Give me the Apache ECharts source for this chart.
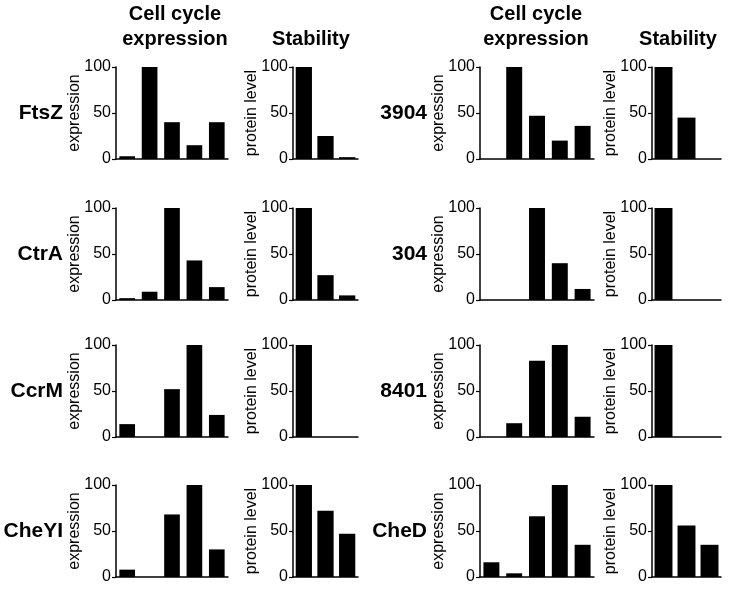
<!DOCTYPE html>
<html>
<head>
<meta charset="utf-8">
<script src="https://cdn.jsdelivr.net/npm/echarts@6/dist/echarts.min.js"></script>
<style>
  html, body { margin: 0; padding: 0; background: #fff; }
  #main { width: 731px; height: 594px; }
</style>
</head>
<body>
<div id="main"></div>
<script>
var chart = echarts.init(document.getElementById('main'));

// gene names, left column block and right column block
var genesLeft = ['FtsZ', 'CtrA', 'CcrM', 'CheYI'];
var genesRight = ['3904', '304', '8401', 'CheD'];

// unlabeled time points
var cycleSteps = ['t1', 't2', 't3', 't4', 't5'];
var stabilitySteps = ['s1', 's2', 's3'];

// cell cycle expression (% of max)
var exprLeft = [
  [3, 100, 40, 15, 40],
  [2, 9, 100, 43, 14],
  [14, 0, 52, 100, 24],
  [8, 0, 68, 100, 30]
];
var exprRight = [
  [0, 100, 47, 20, 36],
  [0, 0, 100, 40, 12],
  [0, 15, 83, 100, 22],
  [16, 4, 66, 100, 35]
];

// protein stability (protein level %)
var stabLeft = [
  [100, 25, 2],
  [100, 27, 5],
  [100, 0, 0],
  [100, 72, 47]
];
var stabRight = [
  [100, 45, 0],
  [100, 0, 0],
  [100, 0, 0],
  [100, 56, 35]
];

var yTicks = [0, 50, 100];

var font = "'Liberation Sans', Arial, Helvetica, sans-serif";
var rowTop = [67, 208, 345, 485];
var rowH = 92;

// panel columns: x start and width
var cols = [
  { left: 116, width: 112, cats: cycleSteps, name: 'expression', gap: '30%' },
  { left: 293, width: 65, cats: stabilitySteps, name: 'protein level', gap: '25%' },
  { left: 480, width: 114, cats: cycleSteps, name: 'expression', gap: '30%' },
  { left: 652, width: 69, cats: stabilitySteps, name: 'protein level', gap: '22%' }
];

var grids = [], xAxes = [], yAxes = [], series = [];

function addPanel(row, col, values) {
  var c = cols[col];
  var idx = grids.length;
  grids.push({ left: c.left, top: rowTop[row], width: c.width, height: rowH, containLabel: false });
  xAxes.push({
    type: 'category', gridIndex: idx, data: c.cats,
    axisLine: { lineStyle: { color: '#000', width: 1.5 } },
    axisTick: { show: false }, axisLabel: { show: false }
  });
  yAxes.push({
    type: 'value', gridIndex: idx, min: yTicks[0], max: yTicks[2], interval: 50,
    name: c.name, nameLocation: 'middle', nameRotate: 90, nameGap: 33,
    nameMoveOverlap: false,
    nameTextStyle: { fontFamily: font, fontSize: 16, color: '#000' },
    axisLine: { show: true, lineStyle: { color: '#000', width: 1.5 } },
    axisTick: { show: true, length: 4, lineStyle: { color: '#000', width: 1.2 } },
    axisLabel: { fontFamily: font, fontSize: 16, color: '#000', margin: 5 },
    splitLine: { show: false }
  });
  series.push({
    type: 'bar', xAxisIndex: idx, yAxisIndex: idx, data: values,
    barCategoryGap: c.gap, itemStyle: { color: '#000' }, silent: true
  });
}

for (var r = 0; r < 4; r++) {
  addPanel(r, 0, exprLeft[r]);
  addPanel(r, 1, stabLeft[r]);
  addPanel(r, 2, exprRight[r]);
  addPanel(r, 3, stabRight[r]);
}

var graphics = [];
function label(text, x, y, size, align) {
  graphics.push({
    type: 'text', x: x, y: y,
    style: {
      text: text, fontFamily: font, fontSize: size, fontWeight: 'bold',
      fill: '#000', align: align, verticalAlign: 'middle'
    }
  });
}
label('Cell cycle', 175, 14, 20, 'center');
label('expression', 175, 39, 20, 'center');
label('Stability', 311, 39, 20, 'center');
label('Cell cycle', 536, 14, 20, 'center');
label('expression', 536, 39, 20, 'center');
label('Stability', 678, 39, 20, 'center');
for (var g = 0; g < 4; g++) {
  label(genesLeft[g], 63, rowTop[g] + rowH / 2, 21, 'right');
  label(genesRight[g], 427, rowTop[g] + rowH / 2, 21, 'right');
}

chart.setOption({
  backgroundColor: '#fff',
  animation: false,
  grid: grids,
  xAxis: xAxes,
  yAxis: yAxes,
  series: series,
  graphic: graphics
});
</script>
</body>
</html>
